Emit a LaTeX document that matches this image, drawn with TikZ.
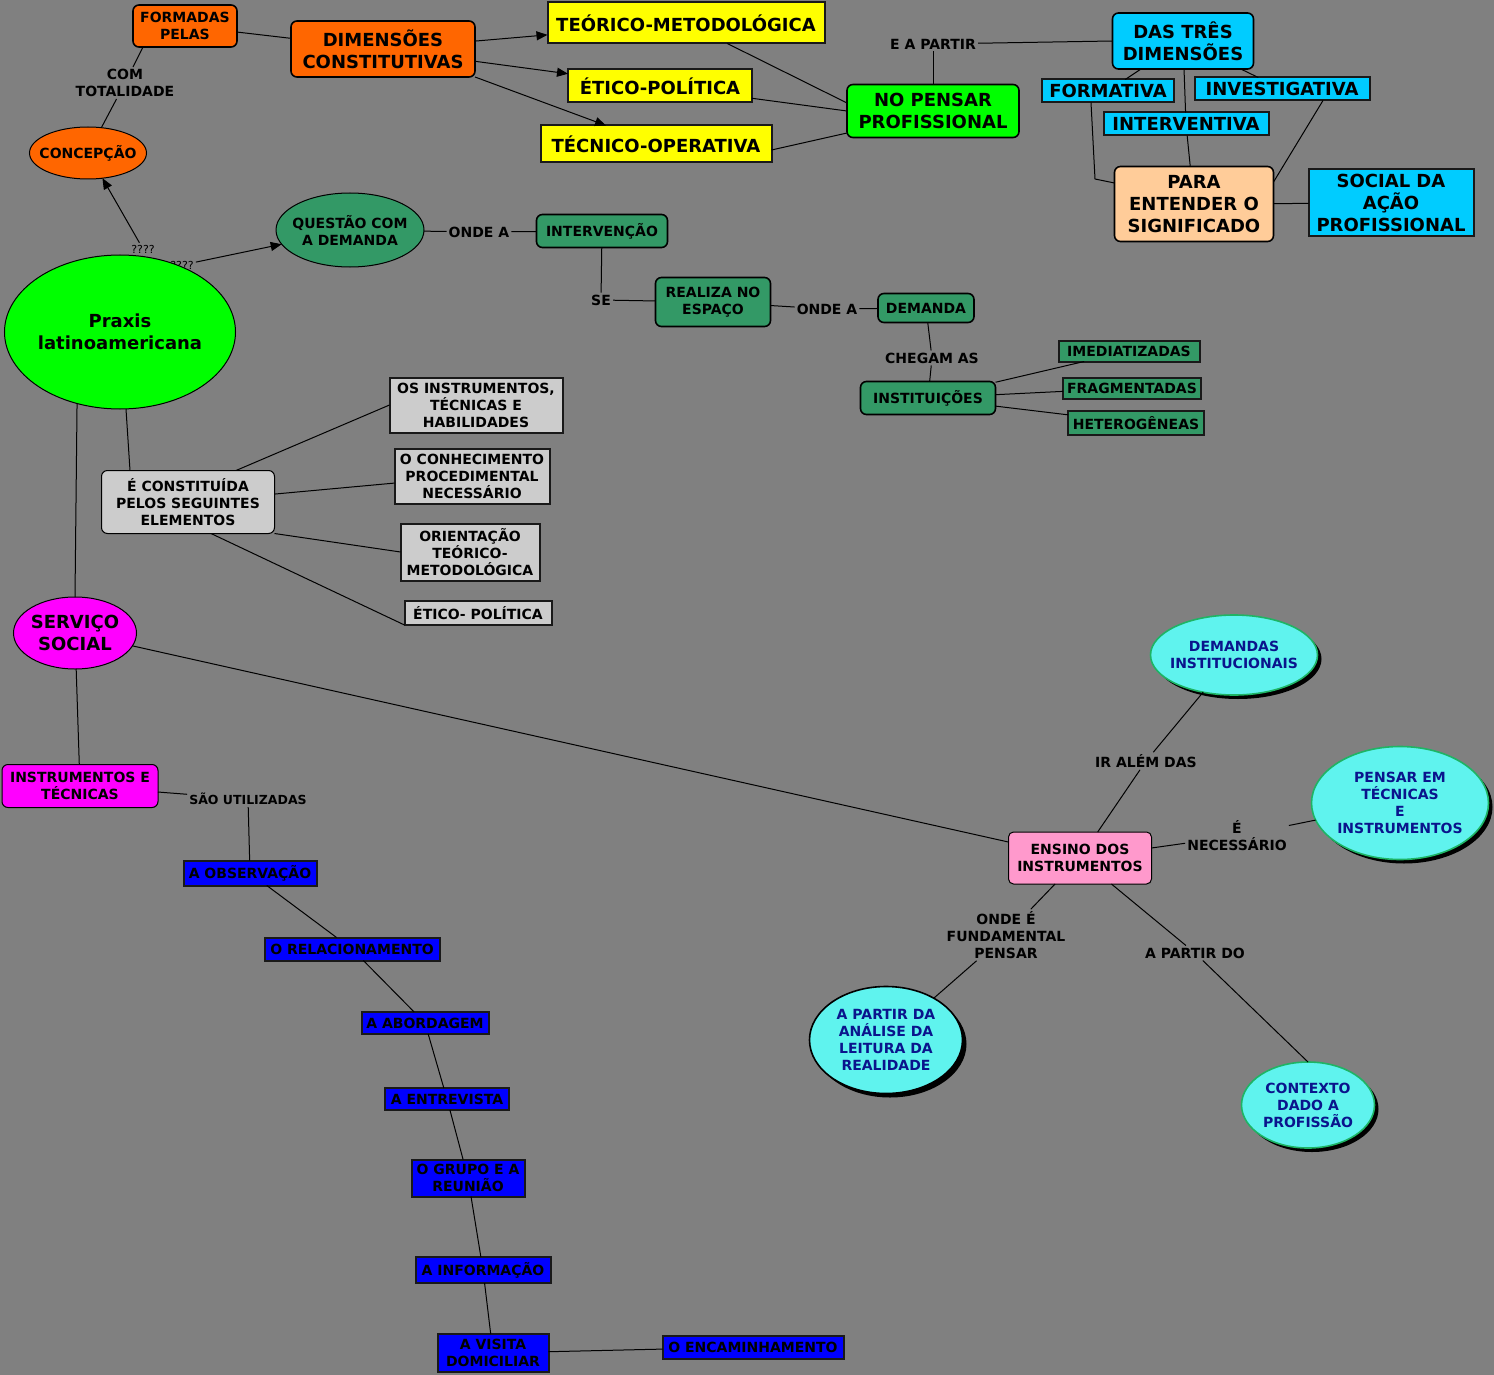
\documentclass[tikz,border=0pt]{standalone}
\usepackage{fontspec}
\setmainfont{DejaVu Sans}
\usetikzlibrary{arrows.meta,shapes.geometric,shadows}
\definecolor{bgc}{RGB}{128,128,128}
\definecolor{orng}{RGB}{255,102,0}
\definecolor{ylw}{RGB}{255,255,0}
\definecolor{lgrn}{RGB}{0,255,0}
\definecolor{cyn}{RGB}{0,204,255}
\definecolor{pch}{RGB}{255,204,153}
\definecolor{sgrn}{RGB}{51,153,102}
\definecolor{lgry}{RGB}{204,204,204}
\definecolor{mgnt}{RGB}{255,0,255}
\definecolor{blu}{RGB}{0,0,255}
\definecolor{pnk}{RGB}{255,153,204}
\definecolor{aquac}{RGB}{95,243,238}
\definecolor{aquab}{RGB}{30,180,100}
\definecolor{nvy}{RGB}{10,20,140}
\definecolor{edgc}{RGB}{25,25,25}
\newcommand\mfont{\bfseries\fontsize{14}{17}\selectfont}
\newcommand\bfnt{\bfseries\fontsize{18}{22}\selectfont}
\newcommand\sfnt{\bfseries\fontsize{12.5}{15}\selectfont}
\newcommand\qfnt{\fontsize{11}{13}\selectfont}
\begin{document}
\begin{tikzpicture}[x=1pt,y=-1pt,
  base/.style={align=center, inner sep=0pt, outer sep=0pt, text=black, font=\mfont},
  big/.style={font=\bfnt},
  sz/.style 2 args={minimum width=#1pt, minimum height=#2pt},
  rbox/.style={base, draw=black, line width=1.6pt, rounded corners=6pt, fill=#1},
  sbox/.style={base, draw=edgc, line width=2pt, fill=#1},
  ell/.style={base, ellipse, draw=black, line width=1pt, fill=#1},
  aell/.style={base, ellipse, fill=aquac, draw=aquab, line width=1.6pt,
    drop shadow={shadow xshift=4pt, shadow yshift=-4pt, fill=black, opacity=1}},
  ltxt/.style={align=center, text=black, font=\mfont, inner sep=0pt},
  lbl/.style={align=center, inner sep=2pt, text=black, font=\mfont},
  conn/.style={draw=black, line width=1pt},
  arr/.style={conn, -{Triangle[length=11pt,width=9pt]}}
]
\fill[bgc] (0,0) rectangle (1494,1375);
\useasboundingbox (0,0) rectangle (1494,1375);

% top left / top
\node[rbox=orng, sz={104}{42}] (fp) at (185,26) {FORMADAS\\PELAS};
\node[rbox=orng, big, sz={184}{56}] (dim) at (383,49) {DIMENSÕES\\CONSTITUTIVAS};
\node[sbox=ylw, big, sz={277}{41}] (teo) at (686,23) {TEÓRICO-METODOLÓGICA};
\node[sbox=ylw, big, sz={184}{33}] (eti) at (660,86) {ÉTICO-POLÍTICA};
\node[sbox=ylw, big, sz={231}{37}] (tec) at (656,144) {TÉCNICO-OPERATIVA};
\node[rbox=lgrn, big, sz={172}{53}] (np) at (933,111) {NO PENSAR\\PROFISSIONAL};
\node[lbl] (eap) at (933,44) {E A PARTIR};
\node[rbox=cyn, big, sz={141}{56}] (das) at (1183,41) {DAS TRÊS\\DIMENSÕES};
\node[sbox=cyn, big, sz={132}{23}] (form) at (1108,91) {FORMATIVA};
\node[sbox=cyn, big, sz={175}{23}] (inv) at (1282,89) {INVESTIGATIVA};
\node[sbox=cyn, big, sz={165}{23}] (intv) at (1186,124) {INTERVENTIVA};
\node[rbox=pch, big, sz={159}{75}] (para) at (1194,204) {PARA\\ENTENDER O\\SIGNIFICADO};
\node[sbox=cyn, big, sz={165}{67}] (soc) at (1391,203) {SOCIAL DA\\AÇÃO\\PROFISSIONAL};

\node[lbl] (comtot) at (125,83) {COM\\TOTALIDADE};
\node[ell=orng, sz={117}{52}, label={[ltxt]center:CONCEPÇÃO}] (conc) at (88,153) {};
\node[lbl, font=\qfnt] (q1) at (143,249) {????};
\node[lbl, font=\qfnt] (q2) at (182,265) {????};
\node[ell=lgrn, sz={231}{154}, label={[ltxt, font=\bfnt]center:Praxis\\latinoamericana}] (praxis) at (120,332) {};

% middle green chain
\node[ell=sgrn, sz={148}{74}, label={[ltxt]center:QUESTÃO COM\\A DEMANDA}] (quest) at (350,230) {};
\node[lbl] (oa1) at (479,232) {ONDE A};
\node[rbox=sgrn, sz={131}{33}] (interv) at (602,231) {INTERVENÇÃO};
\node[lbl] (se) at (601,300) {SE};
\node[rbox=sgrn, sz={115}{49}] (real) at (713,302) {REALIZA NO\\ESPAÇO};
\node[lbl] (oa2) at (827,309) {ONDE A};
\node[rbox=sgrn, sz={96}{29}] (dem) at (926,308) {DEMANDA};
\node[lbl] (chg) at (932,358) {CHEGAM AS};
\node[rbox=sgrn, sz={135}{33}] (inst) at (928,398) {INSTITUIÇÕES};
\node[sbox=sgrn, sz={141}{21}] (imed) at (1129,351) {IMEDIATIZADAS};
\node[sbox=sgrn, sz={138}{21}] (frag) at (1132,388) {FRAGMENTADAS};
\node[sbox=sgrn, sz={136}{24}] (het) at (1136,423) {HETEROGÊNEAS};

% gray elements
\node[rbox=lgry, line width=1pt, sz={173}{63}] (econst) at (188,502) {É CONSTITUÍDA\\PELOS SEGUINTES\\ELEMENTOS};
\node[sbox=lgry, sz={173}{55}] (osinst) at (476,405) {OS INSTRUMENTOS,\\TÉCNICAS E\\HABILIDADES};
\node[sbox=lgry, sz={155}{55}] (conh) at (472,476) {O CONHECIMENTO\\PROCEDIMENTAL\\NECESSÁRIO};
\node[sbox=lgry, sz={139}{57}] (orient) at (470,552) {ORIENTAÇÃO\\TEÓRICO-\\METODOLÓGICA};
\node[sbox=lgry, sz={147}{24}] (etp) at (478,613) {ÉTICO- POLÍTICA};

% servico social branch
\node[ell=mgnt, sz={123}{72}, label={[ltxt,font=\bfnt]center:SERVIÇO\\SOCIAL}] (serv) at (75,633) {};
\node[rbox=mgnt, line width=1pt, sz={156}{43}] (itec) at (80,786) {INSTRUMENTOS E\\TÉCNICAS};
\node[lbl, font=\sfnt] (sao) at (248,799) {SÃO UTILIZADAS};
\node[sbox=blu, sz={133}{25}] (obs) at (250,873) {A OBSERVAÇÃO};
\node[sbox=blu, sz={175}{23}] (rel) at (352,949) {O RELACIONAMENTO};
\node[sbox=blu, sz={127}{22}] (abo) at (425,1023) {A ABORDAGEM};
\node[sbox=blu, sz={124}{22}] (ent) at (447,1099) {A ENTREVISTA};
\node[sbox=blu, sz={113}{37}] (grp) at (468,1178) {O GRUPO E A\\REUNIÃO};
\node[sbox=blu, sz={135}{26}] (inf) at (483,1270) {A INFORMAÇÃO};
\node[sbox=blu, sz={111}{38}] (vis) at (493,1353) {A VISITA\\DOMICILIAR};
\node[sbox=blu, sz={181}{23}] (enc) at (753,1347) {O ENCAMINHAMENTO};

% ensino branch
\node[rbox=pnk, line width=1pt, rounded corners=5pt, sz={143}{52}] (ensino) at (1080,858) {ENSINO DOS\\INSTRUMENTOS};
\node[aell, sz={167}{80}, label={[ltxt,text=nvy]center:DEMANDAS\\INSTITUCIONAIS}] (deminst) at (1234,655) {};
\node[lbl] (iralem) at (1146,761) {IR ALÉM DAS};
\node[aell, sz={177}{113}, label={[ltxt,text=nvy]center:PENSAR EM\\TÉCNICAS\\E\\INSTRUMENTOS}] (pensar) at (1400,803) {};
\node[lbl] (enec) at (1237,836) {É\\NECESSÁRIO};
\node[lbl] (ondee) at (1006,935) {ONDE É\\FUNDAMENTAL\\PENSAR};
\node[lbl] (apd) at (1195,953) {A PARTIR DO};
\node[aell, draw=black, sz={153}{107}, label={[ltxt,text=nvy]center:A PARTIR DA\\ANÁLISE DA\\LEITURA DA\\REALIDADE}] (anal) at (886,1040) {};
\node[aell, sz={133}{86}, label={[ltxt,text=nvy]center:CONTEXTO\\DADO A\\PROFISSÃO}] (cont) at (1308,1105) {};

% connectors
\draw[conn] (fp) -- (dim);
\draw[conn] ([xshift=-42pt]fp.south) -- (comtot);
\draw[conn] (comtot) -- (conc);
\draw[arr] (dim) -- (teo);
\draw[arr] (dim) -- (eti);
\draw[arr] (dim.south east) -- (tec);
\draw[conn] (teo) -- ([yshift=8pt]np.west);
\draw[conn] (eti) -- (np.west);
\draw[conn] ([yshift=-6pt]tec.east) -- ([yshift=-22pt]np.west);
\draw[conn] (np) -- (eap);
\draw[conn] (eap) -- (das.west);
\draw[conn] (das) -- (form);
\draw[conn] (das) -- (inv);
\draw[conn] (das) -- (intv);
\coordinate (fbend) at (1095,179);
\draw[conn] ([xshift=-17pt]form.south) -- (fbend) -- ([yshift=21pt]para.west);
\draw[conn] (intv) -- (para);
\draw[conn] ([xshift=41pt]inv.south) -- ([yshift=22pt]para.east);
\draw[conn] (para) -- (soc);

\draw[arr] (q1) -- (conc);
\draw[arr] (q2) -- (quest);
\draw[conn] (quest) -- (oa1);
\draw[conn] (oa1) -- (interv);
\draw[conn] (interv) -- (se);
\draw[conn] (se) -- (real);
\draw[conn] (real) -- (oa2);
\draw[conn] (oa2) -- (dem);
\draw[conn] (dem) -- (chg);
\draw[conn] (chg) -- (inst);
\draw[conn] (inst) -- (imed);
\draw[conn] (inst) -- (frag);
\draw[conn] (inst) -- (het);

\draw[conn] ([xshift=6pt]praxis.south) -- ([xshift=-58pt]econst.north);
\draw[conn] ([xshift=48pt]econst.north) -- (osinst.west);
\draw[conn] (econst) -- (conh);
\draw[conn] (econst.south east) -- (orient.west);
\draw[conn] ([xshift=23pt]econst.south) -- (etp.south west);

\draw[conn] (praxis.239.6) -- (serv.north);
\draw[conn] (serv) -- (itec);
\draw[conn] (serv) -- (ensino);
\draw[conn] (itec) -- (sao);
\draw[conn] (sao) -- (obs);
\draw[conn] (obs) -- (rel);
\draw[conn] (rel) -- (abo);
\draw[conn] (abo) -- (ent);
\draw[conn] (ent) -- (grp);
\draw[conn] (grp) -- (inf);
\draw[conn] (inf) -- (vis);
\draw[conn] (vis) -- (enc);

\draw[conn] (ensino) -- (iralem);
\draw[conn] (iralem) -- (deminst);
\draw[conn] (ensino) -- (enec);
\draw[conn] (enec) -- (pensar);
\draw[conn] (ensino) -- (ondee);
\draw[conn] (ondee) -- (anal);
\draw[conn] (ensino) -- (apd);
\draw[conn] (apd) -- (cont.north);
\end{tikzpicture}
\end{document}
